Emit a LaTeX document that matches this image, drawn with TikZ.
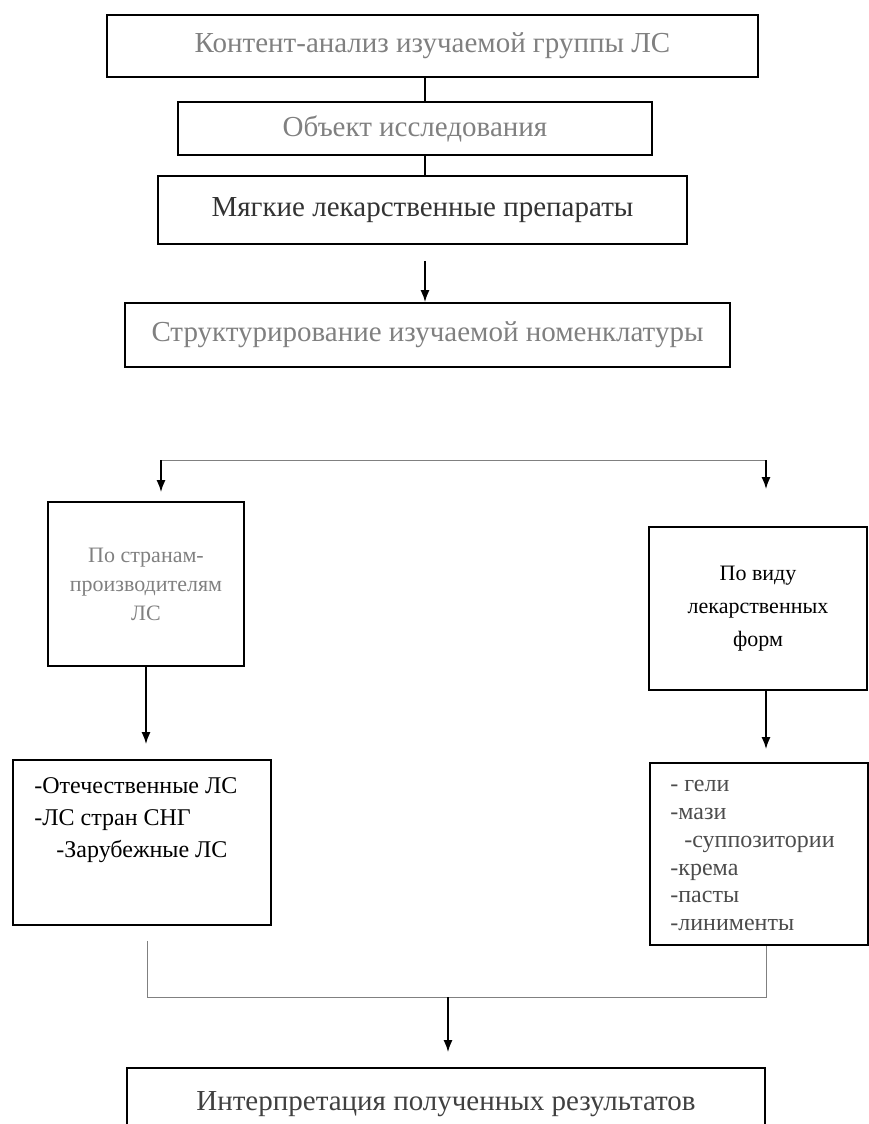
\documentclass[tikz,border=0pt]{standalone}
\usepackage{fontspec}
\setmainfont{Liberation Serif}
\usetikzlibrary{arrows,arrows.meta}

\begin{document}
\begin{tikzpicture}[x=0.5pt,y=-0.5pt,>={Latex[length=6pt,width=4.5pt]}]
    \tikzstyle{every node}=[font=\fontsize{14.5}{16}\selectfont, inner sep=0pt]
    \tikzstyle{blk}=[draw, line width=0.9pt, align=center]
    \tikzstyle{lst}=[align=left, anchor=north west, font=\fontsize{12}{16}\selectfont]
    \tikzstyle{con}=[line width=0.8pt]
    \tikzstyle{thin}=[gray, line width=0.5pt]
    \useasboundingbox (0,0) rectangle (868,1124);

     \node[blk, minimum width=325.5pt, minimum height=31pt, text=gray] (cont) at (432.5,46) {Контент-анализ изучаемой группы ЛС};
     \node[blk, minimum width=237pt, minimum height=26.5pt, text=gray] (obj) at (415,128.5) {Объект исследования};
     \node[blk, minimum width=264.5pt, minimum height=34pt, text=black!80] (mjag) at (422.5,210) {Мягкие лекарственные препараты};
     \node[blk, minimum width=302.5pt, minimum height=32pt, text=gray] (struk) at (427.5,335) {Структурирование изучаемой номенклатуры};

     \node[blk, minimum width=98pt, minimum height=82pt, text=gray, font=\fontsize{11}{14.5}\selectfont] (stran) at (146,584) {По странам-\\производителям\\ЛС};
     \node[blk, minimum width=109pt, minimum height=81.5pt, font=\fontsize{11}{16.5}\selectfont] (vid) at (758,608.5) {По виду\\лекарственных\\форм};

     \node[blk, minimum width=129pt, minimum height=82.5pt] (otech) at (142,842.5) {};
     \node[lst] (otechtxt) at (34,777) {-Отечественные ЛС\\-ЛС стран СНГ\\\hspace{11pt}-Зарубежные ЛС};
     \node[blk, minimum width=109pt, minimum height=91pt] (geli) at (759,854) {};
     \node[lst, text=black!70, font=\fontsize{12}{13.9}\selectfont] (gelitxt) at (670,780) {- гели\\-мази\\\hspace{7pt}-суппозитории\\-крема\\-пасты\\-линименты};

     \node[blk, minimum width=319pt, minimum height=36pt, text=black!75] (interp) at (446,1104) {Интерпретация полученных результатов};

     \coordinate (ax) at (425,0);
     \coordinate (brL) at (161,460);
     \coordinate (brR) at (766,460);
     \coordinate (jnL) at (147,997);
     \coordinate (jnR) at (766,997);
     \coordinate (jnM) at (448,997);

     \draw[con] (cont.south -| ax) -- (obj.north -| ax);
     \draw[con] (obj.south -| ax) -- (mjag.north -| ax);
     \draw[con, ->] ([yshift=-8pt]mjag.south -| ax) -- (struk.north -| ax);

     \draw[thin] (brL) -- (brR);
     \draw[con, ->] (brL) -- ([yshift=4.5pt]stran.north -| brL);
     \draw[con, ->] (brR) -- ([yshift=18.5pt]vid.north -| brR);
     \draw[con, ->] (stran.south) -- ([yshift=7.5pt]otech.north -| stran.south);
     \draw[con, ->] (vid.south -| brR) -- ([yshift=6.5pt]geli.north -| brR);

     \draw[thin] ([yshift=-7.5pt]otech.south -| jnL) -- (jnL) -- (jnR) -- (geli.south -| jnR);
     \draw[con, ->] (jnM) -- ([yshift=7.5pt]interp.north -| jnM);
\end{tikzpicture}
\end{document}
